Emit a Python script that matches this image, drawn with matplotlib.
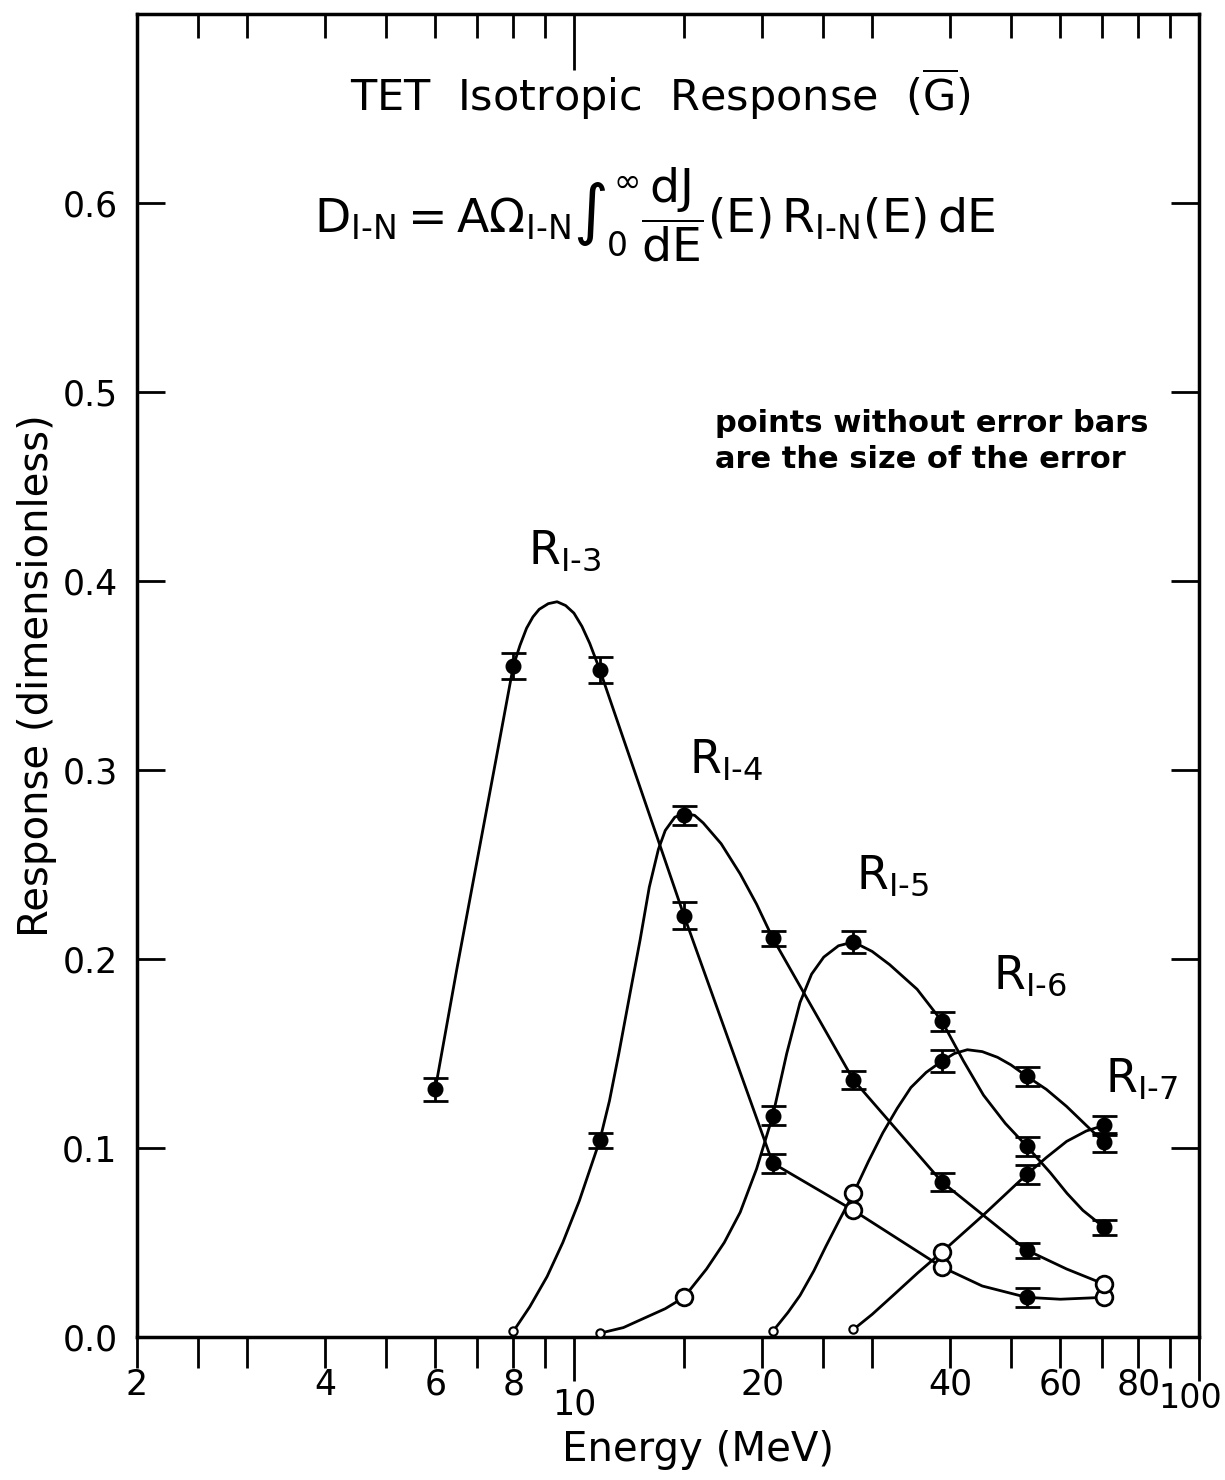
import numpy as np
import matplotlib
matplotlib.use("Agg")
import matplotlib.pyplot as plt
from matplotlib.ticker import FixedLocator, FixedFormatter, NullFormatter

plt.rcParams['font.family'] = ['DejaVu Sans']
plt.rcParams['mathtext.fontset'] = 'dejavusans'

# measured points (energy in MeV, response, error; error 0 -> open circle)
e13 = [6, 8, 11, 15, 20.8, 28, 38.8, 53, 70.5]
r13 = [0.131, 0.355, 0.353, 0.223, 0.092, 0.067, 0.037, 0.021, 0.021]
s13 = [0.006, 0.007, 0.007, 0.007, 0.005, 0, 0, 0.005, 0]

e14 = [8, 11, 15, 20.8, 28, 38.8, 53, 70.5]
r14 = [0.003, 0.104, 0.276, 0.211, 0.136, 0.082, 0.046, 0.028]
s14 = [0, 0.004, 0.005, 0.004, 0.005, 0.005, 0.004, 0]

e15 = [11, 15, 20.8, 28, 38.8, 53, 70.5]
r15 = [0.002, 0.021, 0.117, 0.209, 0.167, 0.101, 0.058]
s15 = [0, 0, 0.005, 0.006, 0.005, 0.005, 0.004]

e16 = [20.8, 28, 38.8, 53, 70.5]
r16 = [0.003, 0.076, 0.146, 0.138, 0.103]
s16 = [0, 0, 0.006, 0.005, 0.005]

e17 = [28, 38.8, 53, 70.5]
r17 = [0.004, 0.045, 0.086, 0.112]
s17 = [0, 0, 0.005, 0.005]

# hand-drawn curves
c13_e = [6, 6.5, 7, 7.5, 8, 8.2, 8.4, 8.6, 8.8, 9.1, 9.4, 9.7, 10.0, 10.3, 10.6, 11,
         15, 20.8, 28, 38.8, 45, 53, 60, 70.5]
c13_r = [0.131, 0.195, 0.252, 0.305, 0.355, 0.366, 0.375, 0.381, 0.385, 0.388, 0.389,
         0.387, 0.383, 0.376, 0.367, 0.353, 0.223, 0.092, 0.067, 0.037, 0.027,
         0.021, 0.020, 0.021]
c14_e = [8, 8.5, 9.06, 9.6, 10.2, 11, 11.4, 11.8, 12.3, 12.76, 13.2, 13.65, 14.0, 14.5,
         15, 15.6, 16.1, 17.2, 18.45, 19.6, 20.8, 28, 38.8, 53, 61.4, 70.5]
c14_r = [0.003, 0.016, 0.032, 0.050, 0.072, 0.104, 0.125, 0.150, 0.182, 0.210, 0.238,
         0.258, 0.268, 0.275, 0.277, 0.276, 0.272, 0.261, 0.245, 0.229, 0.211,
         0.136, 0.082, 0.046, 0.036, 0.028]
c15_e = [11, 12, 12.76, 14, 15, 16.3, 17.4, 18.45, 19.6, 20.8, 21.9, 23.0, 24.0, 25.1,
         26.5, 28, 30, 32, 35.4, 38.8, 42, 45.2, 49, 53, 57.8, 61.5, 65.2, 70.5]
c15_r = [0.002, 0.005, 0.009, 0.015, 0.021, 0.036, 0.050, 0.066, 0.089, 0.117, 0.150,
         0.177, 0.192, 0.201, 0.207, 0.209, 0.204, 0.197, 0.184, 0.167, 0.146,
         0.128, 0.113, 0.101, 0.087, 0.076, 0.067, 0.058]
c16_e = [20.8, 22, 23.0, 24.2, 25.3, 26.6, 28, 29.6, 31.2, 32.9, 34.6, 36.6, 38.8,
         40.6, 42.6, 45, 47.6, 50, 53, 57, 61.4, 66, 70.5]
c16_r = [0.003, 0.013, 0.022, 0.035, 0.048, 0.062, 0.076, 0.093, 0.108, 0.121, 0.132,
         0.140, 0.146, 0.150, 0.152, 0.151, 0.148, 0.144, 0.138, 0.131, 0.122,
         0.112, 0.103]
c17_e = [28, 30, 32.4, 35.5, 38.8, 45, 53, 57, 61.4, 66, 70.5]
c17_r = [0.004, 0.012, 0.022, 0.034, 0.045, 0.064, 0.086, 0.095, 0.1035, 0.109, 0.112]

series = [(e13, r13, s13, c13_e, c13_r), (e14, r14, s14, c14_e, c14_r),
          (e15, r15, s15, c15_e, c15_r), (e16, r16, s16, c16_e, c16_r),
          (e17, r17, s17, c17_e, c17_r)]

fig = plt.figure(figsize=(12.25, 14.8), dpi=100)
ax = fig.add_axes([0.1118, 0.0966, 0.867, 0.894])

for e, r, s, ce, cr in series:
    e = np.array(e); r = np.array(r); s = np.array(s)
    ax.plot(ce, cr, color='black', lw=2.0, zorder=2, solid_joinstyle='round')
    f = s > 0
    ax.errorbar(e[f], r[f], yerr=s[f], fmt='o', color='black', ms=10.5,
                capsize=9, capthick=2, elinewidth=2, zorder=3)
    big = (~f) & (r > 0.01)
    small = (~f) & (r <= 0.01)
    ax.plot(e[big], r[big], 'o', mfc='white', mec='black', mew=2, ms=12, zorder=4)
    ax.plot(e[small], r[small], 'o', mfc='white', mec='black', mew=1.5, ms=6, zorder=4)

ax.set_xscale('log')
ax.set_xlim(2, 100)
ax.set_ylim(0, 0.7)

for sp in ax.spines.values():
    sp.set_linewidth(2.5)

minor_pos = [2, 2.5, 3, 4, 5, 6, 7, 8, 9, 15, 20, 25, 30, 40, 50, 60, 70, 80, 90]
minor_lab = ['2', '', '', '4', '', '6', '', '8', '', '', '20', '', '', '40', '', '60', '', '80', '']
ax.xaxis.set_major_locator(FixedLocator([10, 100]))
ax.xaxis.set_major_formatter(FixedFormatter(['10', '']))
ax.xaxis.set_minor_locator(FixedLocator(minor_pos))
ax.xaxis.set_minor_formatter(FixedFormatter(minor_lab))
ax.tick_params(axis='x', which='major', direction='out', length=32, width=2,
               labelsize=25, pad=4)
ax.tick_params(axis='x', which='minor', direction='out', length=22, width=2,
               labelsize=25, pad=0)
# the "100" label sits against the right edge
fig.text(1222 / 1225, 1 - 1398 / 1480, '100', ha='right', va='center', fontsize=24)

ax.set_yticks(np.arange(0, 0.65, 0.1))
ax.set_yticklabels(['0.0', '0.1', '0.2', '0.3', '0.4', '0.5', '0.6'])
ax.tick_params(axis='y', direction='in', length=20, width=2, labelsize=25,
               right=True, pad=14)

top = ax.twiny()
top.set_xscale('log')
top.set_xlim(2, 100)
top.xaxis.set_major_locator(FixedLocator([10]))
top.xaxis.set_minor_locator(FixedLocator(minor_pos))
top.xaxis.set_major_formatter(NullFormatter())
top.xaxis.set_minor_formatter(NullFormatter())
top.tick_params(axis='x', which='major', direction='in', length=40, width=2)
top.tick_params(axis='x', which='minor', direction='in', length=17, width=2)

ax.set_xlabel('Energy (MeV)', fontsize=29)
ax.xaxis.set_label_coords(0.528, -0.0705)
ax.set_ylabel('Response (dimensionless)', fontsize=29, labelpad=4)

ax.text(0.4925, 0.939, r'TET  Isotropic  Response  ($\overline{\mathrm{G}}$)',
        transform=ax.transAxes, ha='center', va='center', fontsize=31)
ax.text(0.488, 0.848,
        r'$\mathrm{D_{I\text{-}N} = A\Omega_{I\text{-}N}\int_0^{\infty}\dfrac{dJ}{dE}(E)\,R_{I\text{-}N}(E)\,dE}$',
        transform=ax.transAxes, ha='center', va='center', fontsize=34)
ax.text(0.544, 0.677, 'points without error bars\nare the size of the error',
        transform=ax.transAxes, ha='left', va='center', fontsize=22,
        fontweight='bold', linespacing=1.3)

labels = [('3', 8.44, 0.416), ('4', 15.3, 0.305), ('5', 28.3, 0.244),
          ('6', 46.8, 0.191), ('7', 70.8, 0.136)]
for n, x, y in labels:
    ax.text(x, y, r'$\mathrm{R_{I\text{-}%s}}$' % n, fontsize=33, ha='left', va='center')

fig.savefig('out.png', dpi=100)
